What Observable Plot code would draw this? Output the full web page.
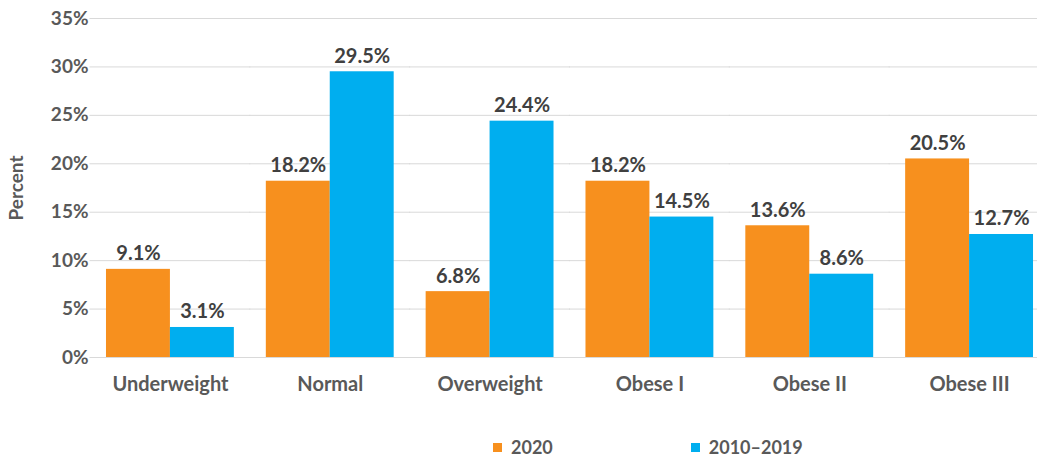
<!DOCTYPE html>
<html>
<head>
<meta charset="utf-8">
<script src="https://cdn.jsdelivr.net/npm/d3@7"></script>
<script src="https://cdn.jsdelivr.net/npm/@observablehq/plot@0.6"></script>
<style>
  html, body { margin: 0; padding: 0; background: #fff; }
  #chart { width: 1037px; overflow: hidden; }
  .legend { display: flex; align-items: center; height: 37px; padding-top: 17px; box-sizing: border-box; padding-left: 493px; font-family: Lato, sans-serif; font-weight: bold; font-size: 18px; color: #595959; }
  .legend .item { display: flex; align-items: center; }
  .legend .sw { width: 9px; height: 9px; margin-right: 9px; }
</style>
</head>
<body>
<div id="chart"></div>
<script>
const categories = ["Underweight", "Normal", "Overweight", "Obese I", "Obese II", "Obese III"];
const seriesNames = ["2020", "2010–2019"];
const values2020 = [9.1, 18.2, 6.8, 18.2, 13.6, 20.5];
const values2010 = [3.1, 29.5, 24.4, 14.5, 8.6, 12.7];
const yTicks = [0, 5, 10, 15, 20, 25, 30, 35];
const colors = ["#F7901E", "#00AEEF"];

const data = categories.flatMap((c, i) => [
  {category: c, series: seriesNames[0], value: values2020[i]},
  {category: c, series: seriesNames[1], value: values2010[i]}
]);

const font = "Lato, sans-serif";

const plot = Plot.plot({
  width: 1037,
  height: 420,
  marginLeft: 90,
  marginRight: -12,
  marginTop: 18,
  marginBottom: 63,
  style: {fontFamily: font, fontWeight: "bold", color: "#595959", background: "#fff"},
  fx: {domain: categories, paddingInner: 0.2, paddingOuter: 0.1, round: false, label: null},
  x: {domain: seriesNames, padding: 0, round: false, axis: null},
  y: {domain: [0, 35], label: null},
  color: {domain: seriesNames, range: colors},
  marks: [
    Plot.ruleY(yTicks, {stroke: "#D9D9D9", strokeWidth: 1, insetLeft: -16.5, insetRight: -16.5}),
    Plot.barY(data, {fx: "category", x: "series", y: "value", fill: "series"}),
    Plot.text(data, {
      fx: "category", x: "series", y: "value",
      text: d => d.value.toFixed(1) + "%",
      lineAnchor: "bottom", dy: -9,
      fill: "#404040", fontSize: 20, fontWeight: "bold"
    }),
    Plot.axisY({
      ticks: yTicks, tickFormat: d => d + "%", tickSize: 0, tickPadding: 18,
      fontSize: 19, label: "Percent", labelAnchor: "center", labelArrow: "none", labelOffset: 97
    }),
    Plot.axisFx({anchor: "bottom", tickSize: 0, tickPadding: 19, fontSize: 20, label: null})
  ]
});

document.getElementById("chart").appendChild(plot);

const legend = document.createElement("div");
legend.className = "legend";
seriesNames.forEach((s, i) => {
  const item = document.createElement("div");
  item.className = "item";
  item.style.marginRight = i === 0 ? "138px" : "0";
  const sw = document.createElement("span");
  sw.className = "sw";
  sw.style.background = colors[i];
  const t = document.createElement("span");
  t.textContent = s;
  item.appendChild(sw);
  item.appendChild(t);
  legend.appendChild(item);
});
document.body.appendChild(legend);
</script>
</body>
</html>
